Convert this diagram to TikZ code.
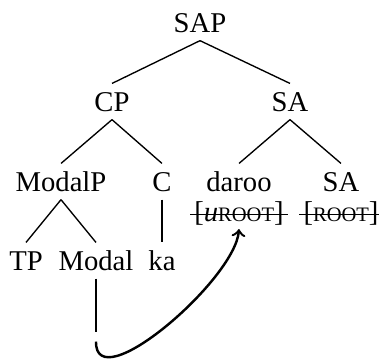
\documentclass[tikz,border=0pt]{standalone}
\usepackage{fontspec}
\setmainfont{Liberation Serif}
\usepackage{tikz}
\usetikzlibrary{arrows}
\newcommand{\rootfeat}{{\fontsize{7.6}{9}\selectfont ROOT}}
\tikzset{tree node/.style={anchor=base, inner xsep=1pt, inner ysep=3pt, text height=7pt, text depth=0pt},
  feat node/.style={anchor=base, inner sep=0pt, text height=6.4pt, text depth=1.6pt, outer xsep=1.6pt, outer ysep=1.4pt},
  trace node/.style={inner sep=0pt, minimum size=3.3pt},
  branch/.style={line width=0.5pt},
  strike/.style={line width=0.5pt},
  move/.style={->, >=to, line width=0.9pt}
}

\begin{document}
\begin{tikzpicture}[x=0.37pt, y=-0.37pt, font=\fontsize{10.6}{12.7}\selectfont]
          \useasboundingbox (0,0) rectangle (379,361);
          % Top
          \node[tree node] (sap) at (200, 32) {SAP};
          % Second level
          \node[tree node] (cp) at (112, 111) {CP};
          \node[tree node] (sa1) at (290, 111) {SA};
          % Third level
          \node[tree node] (modalp) at (61, 191) {ModalP};
          \node[tree node] (c) at (162, 191) {C};
          \node[tree node] (daroo) at (239, 191) {daroo};
          \node[tree node] (sa2) at (341, 191) {SA};
          % Features
          \node[feat node] (f1) at (239, 221) {[\textit{u}\rootfeat]};
          \node[feat node] (f2) at (341, 221) {[\rootfeat]};
          % Leaves
          \node[tree node] (tp) at (26, 270) {TP};
          \node[tree node] (modal) at (96, 270) {Modal};
          \node[tree node] (ka) at (162, 270) {ka};
          \node[trace node] (tr) at (96, 336.5) {};
          % Branches
          \draw[branch] (sap.south) -- (cp.north);
          \draw[branch] (sap.south) -- (sa1.north);
          \draw[branch] (cp.south) -- (modalp.north);
          \draw[branch] (cp.south) -- (c.north);
          \draw[branch] (sa1.south) -- (daroo.north);
          \draw[branch] (sa1.south) -- (sa2.north);
          \draw[branch] (modalp.south) -- (tp.north);
          \draw[branch] (modalp.south) -- (modal.north);
          \draw[branch] (c.south) -- (ka.north);
          \draw[branch] (modal.south) -- (tr.north);
          % Struck features
          \draw[strike] (f1.west) -- (f1.east);
          \draw[strike] (f2.west) -- (f2.east);
          % Movement
          \draw[move] (tr.south) .. controls (95, 400) and (235, 280) .. (f1.south);
        \end{tikzpicture}
\end{document}
